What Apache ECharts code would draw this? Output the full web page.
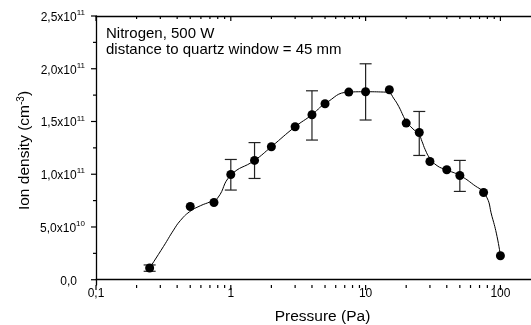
<!DOCTYPE html>
<html>
<head>
<meta charset="utf-8">
<script src="https://cdn.jsdelivr.net/npm/echarts@6/dist/echarts.min.js"></script>
<style>
html,body{margin:0;padding:0;background:#fff;}
#main{width:531px;height:325px;}
</style>
</head>
<body>
<div id="main"></div>
<script>
// pressure (Pa) and ion density (cm^-3)
var pressure = [0.25, 0.5, 0.75, 1, 1.5, 2, 3, 4, 5, 7.5, 10, 15, 20, 25, 30, 40, 50, 75, 100];
var density = [1.11e10, 6.94e10, 7.32e10, 9.97e10, 1.131e11, 1.261e11, 1.45e11, 1.564e11, 1.668e11, 1.779e11, 1.782e11, 1.801e11, 1.485e11, 1.396e11, 1.121e11, 1.043e11, 0.988e11, 0.827e11, 0.227e11];

// error bars
var errPressure = [0.25, 1, 1.5, 4, 10, 25, 50];
var errLow = [0.8e10, 0.85e11, 0.96e11, 1.324e11, 1.514e11, 1.178e11, 0.837e11];
var errHigh = [1.4e10, 1.14e11, 1.30e11, 1.791e11, 2.047e11, 1.595e11, 1.131e11];

// fitted curve
var curvePressure = [0.25, 0.317, 0.376, 0.422, 0.495, 0.594, 0.705, 0.798, 1, 1.5, 2, 3, 4, 5, 7.5, 10, 13.6, 15, 16.1, 17.6, 19.1, 20, 22.1, 24.9, 26.2, 27.7, 29.9, 33.9, 39.5, 50, 63.3, 77.3, 86.6, 94.4, 100];
var curveDensity = [1.11e10, 3.16e10, 4.7e10, 5.6e10, 6.45e10, 7.01e10, 7.39e10, 7.74e10, 9.9e10, 1.131e11, 1.261e11, 1.45e11, 1.564e11, 1.668e11, 1.779e11, 1.782e11, 1.779e11, 1.770e11, 1.722e11, 1.643e11, 1.548e11, 1.5e11, 1.438e11, 1.374e11, 1.311e11, 1.232e11, 1.154e11, 1.081e11, 1.043e11, 0.988e11, 0.90e11, 0.806e11, 0.60e11, 0.41e11, 0.227e11];

// axes
var xMin = 0.1, xMax = 200;
var yMin = -5e9, yMax = 2.5e11;
var xMajorTicks = [0.1, 1, 10, 100];
var xMinorTicks = [0.2, 0.3, 0.4, 0.5, 0.6, 0.7, 0.8, 0.9, 2, 3, 4, 5, 6, 7, 8, 9, 20, 30, 40, 50, 60, 70, 80, 90];
var xTickText = ['0,1', '1', '10', '100'];
var yMajorTicks = [0, 5e10, 1e11, 1.5e11, 2e11, 2.5e11];
var yMinorTicks = [2.5e10, 7.5e10, 1.25e11, 1.75e11, 2.25e11];
var yTickText = ['0,0', '5,0x10', '1,0x10', '1,5x10', '2,0x10', '2,5x10'];
var yTickExp = ['', '10', '11', '11', '11', '11'];

var FONT = '"Liberation Sans", Arial, sans-serif';

function findTick(arr, v){
	for(var i=0;i<arr.length;i++){
		if(Math.abs(arr[i]-v) <= Math.abs(arr[i])*1e-6 + 1e-9){
			return i;
		}
	}
	return -1;
}

// tick marks: [x, y], with direction in tickDir
var tickData = [], tickDir = [];
xMajorTicks.forEach(function(v){
	tickData.push([v, yMin]); tickDir.push([0, 5]);
	tickData.push([v, yMax]); tickDir.push([0, 5]);
});
xMinorTicks.forEach(function(v){
	tickData.push([v, yMin]); tickDir.push([0, 3]);
	tickData.push([v, yMax]); tickDir.push([0, 3]);
});
yMajorTicks.forEach(function(v){
	tickData.push([xMin, v]); tickDir.push([-5, 0]);
});
yMinorTicks.forEach(function(v){
	tickData.push([xMin, v]); tickDir.push([-3, 0]);
});

var points = [];
for(var i=0;i<pressure.length;i++){
	points.push([pressure[i], density[i]]);
}
var curve = [];
for(var c=0;c<curvePressure.length;c++){
	curve.push([curvePressure[c], curveDensity[c]]);
}
var errData = [];
for(var j=0;j<errPressure.length;j++){
	errData.push([errPressure[j], errLow[j], errHigh[j]]);
}

var myChart = echarts.init(document.getElementById('main'));

var axisLineStyle = {color: '#000', width: 1.3};

var option = {
	animation: false,
	title: {
		text: 'Nitrogen, 500 W\ndistance to quartz window = 45 mm',
		left: 106,
		top: 26,
		padding: 0,
		textStyle: {
			fontFamily: FONT,
			fontSize: 15,
			fontWeight: 'normal',
			lineHeight: 16,
			color: '#000'
		}
	},
	grid: {
		left: 96,
		right: -10,
		top: 16,
		bottom: 40,
		containLabel: false,
		outerBoundsMode: 'none'
	},
	xAxis: [
		{
			type: 'log',
			logBase: 10,
			min: xMin,
			max: xMax,
			position: 'bottom',
			axisLine: {show: true, lineStyle: axisLineStyle},
			axisTick: {show: false},
			minorTick: {show: false},
			splitLine: {show: false},
			axisLabel: {
				margin: 3,
				fontFamily: FONT,
				fontSize: 12,
				color: '#000',
				formatter: function(v){
					var k = findTick(xMajorTicks, v);
					return k >= 0 ? xTickText[k] : '';
				}
			},
			name: 'Pressure (Pa)',
			nameLocation: 'middle',
			nameGap: 24,
			nameMoveOverlap: false,
			nameTextStyle: {
				fontFamily: FONT,
				fontSize: 15.5,
				color: '#000',
				padding: [0, 0, 0, 8]
			}
		},
		{
			type: 'log',
			logBase: 10,
			min: xMin,
			max: xMax,
			position: 'top',
			axisLine: {show: true, lineStyle: axisLineStyle},
			axisTick: {show: false},
			splitLine: {show: false},
			axisLabel: {show: false}
		}
	],
	yAxis: {
		type: 'value',
		min: yMin,
		max: yMax,
		axisLine: {show: true, lineStyle: axisLineStyle},
		axisTick: {show: false},
		splitLine: {show: false},
		axisLabel: {
			margin: 11,
			formatter: function(v){
				if(v < 0) return '';
				var k = findTick(yMajorTicks, v);
				if(k < 0) return '';
				if(yTickExp[k] === '') return '{a|' + yTickText[k] + '}{p| }';
				return '{a|' + yTickText[k] + '}{b|' + yTickExp[k] + '}';
			},
			rich: {
				a: {fontFamily: FONT, fontSize: 12, color: '#000', padding: [3, 0, 0, 0]},
				b: {fontFamily: FONT, fontSize: 8, color: '#000', padding: [0, 0, 6, 0]},
				p: {fontFamily: FONT, fontSize: 8, width: 8}
			}
		},
		name: 'Ion density (cm{s|-3})',
		nameLocation: 'middle',
		nameGap: 62,
		nameMoveOverlap: false,
		nameTextStyle: {
			fontFamily: FONT,
			fontSize: 15.5,
			color: '#000',
			rich: {
				s: {fontFamily: FONT, fontSize: 10, color: '#000', padding: [0, 0, 8, 0]}
			}
		}
	},
	series: [
		{
			name: 'ticks',
			type: 'custom',
			silent: true,
			clip: false,
			z: 5,
			data: tickData,
			renderItem: function(params, api){
				var p = api.coord([api.value(0), api.value(1)]);
				var d = tickDir[params.dataIndex];
				return {
					type: 'line',
					shape: {x1: p[0], y1: p[1], x2: p[0] + d[0], y2: p[1] + d[1]},
					style: {stroke: '#000', lineWidth: 1.2}
				};
			}
		},
		{
			name: 'curve',
			type: 'line',
			data: curve,
			smooth: 0.5,
			showSymbol: false,
			silent: true,
			lineStyle: {color: '#000', width: 1},
			z: 2
		},
		{
			name: 'error',
			type: 'custom',
			silent: true,
			clip: false,
			z: 3,
			data: errData,
			encode: {x: 0, y: [1, 2]},
			renderItem: function(params, api){
				var lo = api.coord([api.value(0), api.value(1)]);
				var hi = api.coord([api.value(0), api.value(2)]);
				var w = 6;
				var st = {stroke: '#222', lineWidth: 1.2};
				return {
					type: 'group',
					children: [
						{type: 'line', shape: {x1: lo[0], y1: lo[1], x2: hi[0], y2: hi[1]}, style: st},
						{type: 'line', shape: {x1: lo[0] - w, y1: lo[1], x2: lo[0] + w, y2: lo[1]}, style: st},
						{type: 'line', shape: {x1: hi[0] - w, y1: hi[1], x2: hi[0] + w, y2: hi[1]}, style: st}
					]
				};
			}
		},
		{
			name: 'density',
			type: 'scatter',
			data: points,
			symbol: 'circle',
			symbolSize: 9,
			itemStyle: {color: '#000', opacity: 1},
			z: 4
		}
	]
};
myChart.setOption(option);
</script>
</body>
</html>
